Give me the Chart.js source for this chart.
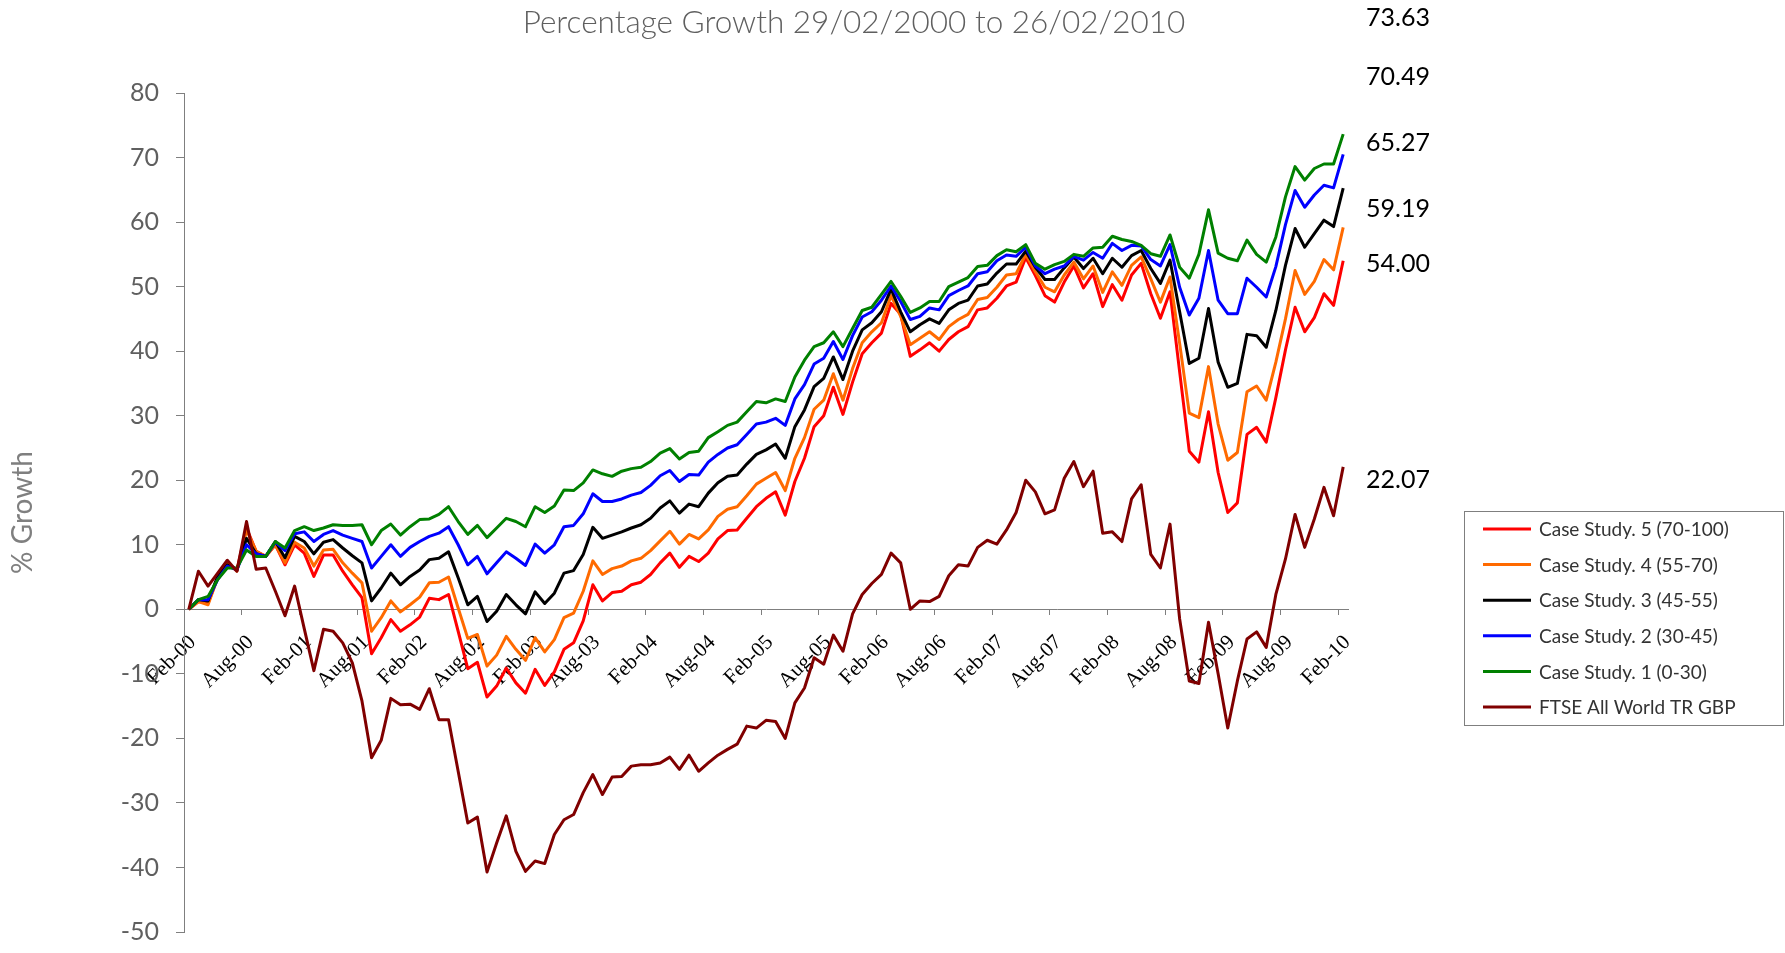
<!DOCTYPE html>
<html><head><meta charset="utf-8">
<script src="https://cdn.jsdelivr.net/npm/chart.js@4/dist/chart.umd.min.js"></script>
<style>html,body{margin:0;padding:0;background:#fff;overflow:hidden}</style>
</head><body>
<canvas id="c" width="1785" height="953"></canvas>
<script>
const categories = [
'Feb-00','Mar-00','Apr-00','May-00','Jun-00','Jul-00','Aug-00','Sep-00','Oct-00','Nov-00','Dec-00',
'Jan-01','Feb-01','Mar-01','Apr-01','May-01','Jun-01','Jul-01','Aug-01','Sep-01','Oct-01','Nov-01','Dec-01',
'Jan-02','Feb-02','Mar-02','Apr-02','May-02','Jun-02','Jul-02','Aug-02','Sep-02','Oct-02','Nov-02','Dec-02',
'Jan-03','Feb-03','Mar-03','Apr-03','May-03','Jun-03','Jul-03','Aug-03','Sep-03','Oct-03','Nov-03','Dec-03',
'Jan-04','Feb-04','Mar-04','Apr-04','May-04','Jun-04','Jul-04','Aug-04','Sep-04','Oct-04','Nov-04','Dec-04',
'Jan-05','Feb-05','Mar-05','Apr-05','May-05','Jun-05','Jul-05','Aug-05','Sep-05','Oct-05','Nov-05','Dec-05',
'Jan-06','Feb-06','Mar-06','Apr-06','May-06','Jun-06','Jul-06','Aug-06','Sep-06','Oct-06','Nov-06','Dec-06',
'Jan-07','Feb-07','Mar-07','Apr-07','May-07','Jun-07','Jul-07','Aug-07','Sep-07','Oct-07','Nov-07','Dec-07',
'Jan-08','Feb-08','Mar-08','Apr-08','May-08','Jun-08','Jul-08','Aug-08','Sep-08','Oct-08','Nov-08','Dec-08',
'Jan-09','Feb-09','Mar-09','Apr-09','May-09','Jun-09','Jul-09','Aug-09','Sep-09','Oct-09','Nov-09','Dec-09',
'Jan-10','Feb-10'];

const tickLabels = ['Feb-00','Aug-00','Feb-01','Aug-01','Feb-02','Aug-02','Feb-03','Aug-03','Feb-04','Aug-04',
'Feb-05','Aug-05','Feb-06','Aug-06','Feb-07','Aug-07','Feb-08','Aug-08','Feb-09','Aug-09','Feb-10'];

const caseStudy5 = [0,1.2,1.0,4.9,7.2,6.1,12.6,9.0,8.2,10.0,
6.9,10.0,8.7,5.1,8.4,8.4,5.9,3.8,1.8,-6.9,
-4.4,-1.6,-3.4,-2.4,-1.2,1.7,1.5,2.3,-3.4,-9.2,
-8.2,-13.6,-11.9,-9.1,-11.4,-13.0,-9.3,-11.8,-9.7,-6.2,
-5.2,-1.8,3.8,1.3,2.6,2.8,3.8,4.2,5.4,7.2,
8.7,6.5,8.2,7.4,8.7,10.9,12.2,12.3,14.1,15.9,
17.2,18.2,14.6,19.8,23.4,28.3,30.0,34.4,30.2,35.2,
39.6,41.3,42.8,47.4,45.7,39.2,40.2,41.3,40.0,41.8,
43.0,43.8,46.4,46.7,48.2,50.1,50.7,54.5,51.7,48.6,
47.6,50.7,53.2,49.8,52.0,46.9,50.3,47.9,51.8,53.6,
48.9,45.1,49.2,36.8,24.5,22.8,30.6,21.2,15.0,16.5,
27.1,28.2,25.9,32.8,40.2,46.8,43.0,45.2,48.9,47.1,
54.00];

const caseStudy4 = [0,1.2,0.7,4.9,7.2,5.9,12.3,9.0,8.2,10.0,
7.2,10.4,9.5,6.7,9.2,9.3,7.2,5.6,4.1,-3.4,
-1.3,1.3,-0.4,0.7,1.9,4.1,4.2,5.0,0.2,-4.5,
-3.9,-8.8,-7.1,-4.2,-6.2,-7.9,-4.4,-6.6,-4.7,-1.3,
-0.6,2.8,7.5,5.4,6.3,6.7,7.5,7.9,9.1,10.6,
12.1,10.1,11.6,10.9,12.3,14.4,15.5,15.9,17.6,19.4,
20.3,21.2,18.4,23.4,26.6,31.0,32.4,36.5,32.4,37.3,
41.3,43.0,44.4,48.6,45.4,41.0,42.0,43.0,41.8,43.8,
44.9,45.7,48.0,48.3,49.9,51.8,52.0,55.0,52.3,49.9,
49.2,51.8,53.8,51.2,53.2,49.1,52.3,50.2,53.3,54.6,
51.2,47.6,51.5,41.2,30.4,29.7,37.6,28.7,23.1,24.3,
33.7,34.6,32.4,38.3,45.0,52.5,48.8,50.8,54.2,52.6,
59.19];

const caseStudy3 = [0,1.5,1.3,5.1,6.9,6.1,11.0,8.6,8.2,10.5,
8.0,11.3,10.5,8.6,10.4,10.8,9.5,8.3,7.2,1.3,
3.3,5.6,3.8,5.1,6.1,7.7,7.9,8.9,4.9,0.7,
2.0,-1.9,-0.3,2.3,0.7,-0.7,2.7,0.9,2.5,5.6,
6.0,8.5,12.7,11.0,11.5,12.0,12.6,13.1,14.1,15.7,
16.8,14.9,16.3,15.9,18.0,19.6,20.6,20.8,22.5,24.0,
24.7,25.6,23.4,28.3,30.9,34.5,35.8,39.1,35.6,40.0,
43.3,44.4,46.1,49.6,46.1,43.0,44.1,45.0,44.3,46.4,
47.4,47.9,50.1,50.4,52.1,53.5,53.5,55.5,53.0,51.1,
51.1,52.9,54.6,52.8,54.4,52.0,54.4,53.0,54.8,55.6,
52.8,50.5,54.1,46.1,38.1,38.9,46.6,38.3,34.4,35.0,
42.6,42.4,40.6,46.3,53.3,59.0,56.1,58.2,60.3,59.3,
65.27];

const caseStudy2 = [0,1.5,1.5,4.6,6.7,6.1,10.0,8.6,8.2,10.4,
9.1,11.7,12.0,10.5,11.6,12.2,11.5,11.0,10.5,6.4,
8.2,10.0,8.2,9.6,10.5,11.3,11.8,12.8,10.0,6.9,
8.2,5.5,7.2,8.9,7.9,6.8,10.1,8.7,10.0,12.8,
13.0,14.8,17.9,16.7,16.7,17.1,17.7,18.1,19.2,20.7,
21.5,19.8,20.9,20.8,22.8,24.0,25.0,25.5,27.1,28.7,
29.0,29.6,28.5,32.6,34.8,38.0,38.9,41.5,38.7,42.4,
45.3,46.1,47.9,50.1,47.7,44.9,45.4,46.7,46.4,48.6,
49.4,50.1,52.0,52.3,54.0,54.9,54.7,56.1,53.2,52.0,
52.7,53.2,54.7,54.1,55.3,54.4,56.7,55.6,56.4,56.3,
54.2,53.2,56.5,49.9,45.6,48.2,55.6,47.9,45.8,45.8,
51.3,49.9,48.4,53.1,59.6,64.9,62.3,64.2,65.7,65.3,
70.49];

const caseStudy1 = [0,1.5,2.0,4.6,6.4,6.4,9.2,8.2,8.2,10.5,
9.5,12.2,12.8,12.2,12.6,13.1,13.0,13.0,13.1,10.0,
12.2,13.2,11.5,12.8,13.9,14.0,14.7,15.9,13.6,11.6,
13.0,11.1,12.6,14.1,13.6,12.8,15.9,15.0,16.0,18.5,
18.4,19.6,21.6,21.0,20.6,21.4,21.8,22.0,22.9,24.2,
24.9,23.3,24.3,24.5,26.6,27.5,28.5,29.0,30.6,32.2,
32.0,32.6,32.2,36.0,38.6,40.7,41.3,43.0,40.7,43.5,
46.3,46.8,48.8,50.8,48.5,46.0,46.7,47.7,47.7,50.0,
50.7,51.4,53.1,53.3,54.8,55.7,55.4,56.5,53.6,52.7,
53.4,53.9,55.0,54.7,56.0,56.1,57.8,57.3,57.0,56.4,
55.1,54.7,58.0,53.0,51.3,55.0,61.9,55.2,54.4,54.0,
57.2,55.0,53.8,57.7,63.9,68.6,66.5,68.3,69.0,69.0,
73.63];

const ftseAllWorld = [0,5.9,3.6,5.6,7.6,5.9,13.6,6.2,6.4,2.8,
-1.0,3.6,-3.0,-9.5,-3.1,-3.4,-5.2,-8.3,-14.2,-23.0,
-20.3,-13.8,-14.8,-14.7,-15.5,-12.3,-17.1,-17.1,-25.1,-33.1,
-32.2,-40.7,-36.2,-32.0,-37.5,-40.6,-39.0,-39.4,-34.9,-32.6,
-31.8,-28.4,-25.6,-28.7,-26.0,-25.9,-24.3,-24.1,-24.1,-23.8,
-22.9,-24.8,-22.6,-25.1,-23.8,-22.6,-21.7,-20.9,-18.1,-18.4,
-17.2,-17.4,-20.0,-14.5,-12.2,-7.5,-8.5,-4.0,-6.5,-0.7,
2.3,4.0,5.4,8.7,7.2,0.0,1.3,1.2,2.0,5.2,
6.9,6.7,9.6,10.7,10.1,12.3,15.0,20.0,18.2,14.8,
15.4,20.3,22.9,19.0,21.4,11.8,12.0,10.5,17.1,19.3,
8.5,6.4,13.2,-1.5,-11.1,-11.5,-2.0,-10.0,-18.4,-11.1,
-4.6,-3.5,-5.9,2.3,7.8,14.7,9.6,14.0,18.9,14.5,
22.07];

const seriesNames = ['Case Study. 5 (70-100)','Case Study. 4 (55-70)','Case Study. 3 (45-55)',
  'Case Study. 2 (30-45)','Case Study. 1 (0-30)','FTSE All World TR GBP'];
const seriesColors = ['#ff0000','#ff6a00','#000000','#0000ff','#008000','#800000'];
const seriesData = [caseStudy5, caseStudy4, caseStudy3, caseStudy2, caseStudy1, ftseAllWorld];

const titleText = 'Percentage Growth 29/02/2000 to 26/02/2010';
const endValueLabels = ['73.63','70.49','65.27','59.19','54.00','22.07'];
const endValueLabelY = [18, 77, 143, 209, 264, 480];

const overlay = {
  id: 'overlay',
  afterDraw(chart) {
    const ctx = chart.ctx;
    ctx.save();
    ctx.fillStyle = '#5f5f5f';
    ctx.font = '300 31.5px Lato';
    ctx.textAlign = 'center';
    ctx.textBaseline = 'middle';
    ctx.fillText(titleText, 854, 23);
    ctx.fillStyle = '#000';
    ctx.font = '25px Lato';
    ctx.textAlign = 'left';
    endValueLabels.forEach((t, i) => ctx.fillText(t, 1366, endValueLabelY[i]));
    ctx.strokeStyle = '#7f7f7f';
    ctx.lineWidth = 1;
    ctx.strokeRect(1464.5, 511.5, 319, 214);
    ctx.font = '19px Lato';
    ctx.textAlign = 'left';
    chart.data.datasets.forEach((ds, i) => {
      const y = 529 + i * 35.6;
      ctx.strokeStyle = ds.borderColor;
      ctx.lineWidth = 3;
      ctx.beginPath();
      ctx.moveTo(1483, y);
      ctx.lineTo(1531, y);
      ctx.stroke();
      ctx.fillStyle = '#333';
      ctx.fillText(ds.label, 1539, y + 1);
    });
    ctx.restore();
  }
};

new Chart(document.getElementById('c'), {
  type: 'line',
  data: {
    labels: categories,
    datasets: seriesData.map((d, i) => ({
      label: seriesNames[i],
      data: d,
      borderColor: seriesColors[i],
      backgroundColor: seriesColors[i],
      order: seriesData.length - 1 - i
    }))
  },
  options: {
    responsive: false,
    animation: false,
    devicePixelRatio: 1,
    layout: { padding: { left: 0, right: 437, top: 93, bottom: 21 } },
    plugins: { legend: { display: false }, tooltip: { enabled: false }, title: { display: false } },
    elements: {
      point: { radius: 0 },
      line: { borderWidth: 3, tension: 0, borderJoinStyle: 'round', fill: false }
    },
    scales: {
      x: {
        type: 'category',
        position: { y: 0 },
        offset: true,
        grid: {
          offset: true, drawOnChartArea: false, drawTicks: true, tickLength: 5, lineWidth: 1,
          color: (c) => (tickLabels.includes(categories[c.index]) ? '#7f7f7f' : 'rgba(0,0,0,0)')
        },
        border: { display: true, color: '#7f7f7f', width: 1 },
        ticks: {
          autoSkip: false, minRotation: 45, maxRotation: 45, padding: 16, labelOffset: 4,
          color: '#000',
          font: { family: 'Liberation Serif', size: 21 },
          callback: function (v, i) {
            const lab = categories[i];
            return tickLabels.includes(lab) ? lab : '';
          }
        },
        afterFit: (s) => { s.height = 0; }
      },
      y: {
        min: -50, max: 80,
        ticks: { stepSize: 10, color: '#5f5f5f', font: { family: 'Lato', size: 25 }, padding: 17 },
        grid: { drawOnChartArea: false, tickLength: 8, color: '#7f7f7f' },
        border: { color: '#7f7f7f', width: 1 },
        title: { display: true, text: '% Growth', color: '#7f7f7f', font: { family: 'Lato', size: 28 }, padding: { top: 6, bottom: 0 } },
        afterFit: (s) => { s.width = 184; s.paddingTop = 0; s.paddingBottom = 0; }
      }
    }
  },
  plugins: [overlay]
});
</script>
</body></html>
